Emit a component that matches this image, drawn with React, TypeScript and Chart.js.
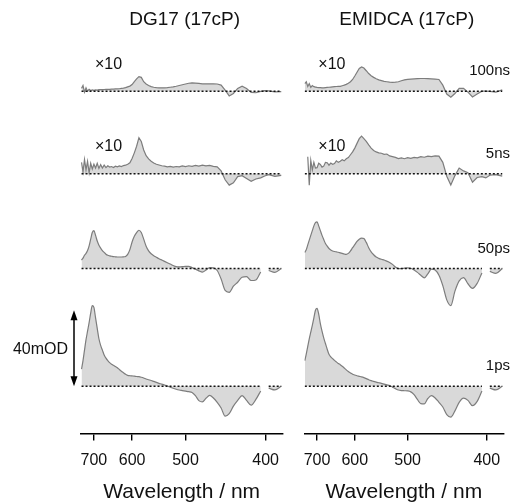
import React, { useEffect, useRef } from "react";
import { Chart, registerables } from "chart.js";

Chart.register(...registerables);

const FONT = "'Liberation Sans', Arial, sans-serif";

// Wavelength grid (nm); the x axis is linear in wavenumber (1e7 / nm)
const wavelengths = [
  740, 735, 730, 725, 720, 715, 710, 705, 700, 695,
  690, 685, 680, 675, 670, 665, 660, 655, 650, 645,
  640, 635, 630, 625, 620, 615, 610, 605, 600, 595,
  590, 585, 580, 575, 570, 565, 560, 555, 550, 545,
  540, 535, 530, 525, 520, 515, 510, 505, 500, 495,
  490, 485, 480, 475, 470, 465, 460, 455, 450, 445,
  440, 435, 430, 425, 420, 415, 410, 405, 401, 397,
  391, 385,
];
const tickWavelengths = [700, 600, 500, 400];

const panelTitles = ["DG17 (17cP)", "EMIDCA (17cP)"];
const delayLabels = ["1ps", "50ps", "5ns", "100ns"];
// vertical offsets of each trace (mOD)
const offsets = [0, 62, 112, 155.5];
// display magnification (traces marked ×10 are stored as displayed)
const magnification = [1, 1, 10, 10];
const scaleBarMOD = 40;

// DG17 (mOD)
const dg17_1ps = [
  9, 13.5, 19, 24.5, 29, 33.5, 38.5, 42.5, 41.5, 36,
  30.5, 25, 21.5, 19, 16.5, 14.8, 13.5, 12.4, 11.6, 11,
  10.4, 9.7, 8.8, 7.9, 7.1, 6.3, 5.7, 5.5, 5.4, 5.3,
  5.1, 5.0, 4.7, 4.3, 3.8, 3.4, 3.0, 2.5, 2.0, 1.5,
  1.1, 0.6, 0.1, -0.5, -1.1, -1.6, -2.0, -2.3, -2.6, -2.9,
  -3.3, -5, -7.6, -8.3, -6.4, -4.9, -6.2, -8.5, -11.5, -15.8,
  -14.5, -10.5, -7.5, -5, -7.5, -10, -7, -2.5, null, -1,
  -2, 0,
];
const dg17_50ps = [
  4.5, 5.5, 7, 8, 9.5, 12, 15.5, 19, 20, 17.5,
  14.5, 12.3, 10.8, 9.5, 8.5, 7.6, 7, 6.7, 6.5, 6.3,
  6.2, 6.1, 6.1, 6.1, 6.2, 6.4, 7.5, 10, 14, 17,
  19, 20.2, 19, 15.5, 11.8, 9.3, 7.8, 6.8, 6, 5.2,
  4.5, 3.8, 3.1, 2.4, 1.6, 1.0, 0.9, 1.0, 1.2, 1.2,
  0.5, -0.3, -1.2, -1.9, -0.8, 0.5, 0.4, -1, -5.5, -11.5,
  -12.5, -9.3, -7.2, -4.6, -4.2, -6.3, -6.0, -1.8, null, -1,
  -2, 0,
];
const dg17_5ns_x10 = [
  6, 1, 7.5, 2, 6.5, 0.5, 5.5, 2.5, 5, 3,
  5.5, 2.8, 4.8, 3, 4.5, 3.2, 4.2, 3.5, 3.8, 3.3,
  4, 3.6, 4.1, 3.8, 4.3, 4.5, 5, 5.8, 8, 11,
  14.5, 19, 17, 12.5, 9.5, 7.8, 6.6, 5.7, 5.0, 4.6,
  4.2, 4.0, 3.6, 3.9, 3.5, 3.8, 3.6, 4.1, 3.8, 4.2,
  3.9, 4.4, 4.0, 4.5, 4.1, 4.4, 3.9, 3.6, 1.5, -3.2,
  -6, -4.8, -1.5, -1.0, -2.5, -4.0, -2.8, -2.2, -1.2, -0.5,
  -1.4, -0.9,
];
const dg17_100ns_x10 = [
  1.5, 3, -0.5, 1.8, 0, 1, 0.4, 0.7, 0.5, 0.7,
  0.6, 0.8, 0.8, 0.9, 0.9, 1.0, 1.0, 1.0, 1.1, 1.1,
  1.2, 1.2, 1.3, 1.5, 1.6, 1.9, 2.3, 2.7, 3.5, 5.1,
  6.5, 7.7, 7.3, 5, 3.8, 3, 2.4, 2.1, 1.9, 1.8,
  1.8, 1.8, 1.9, 2.1, 2.3, 2.6, 3.0, 3.4, 3.8, 4.2,
  4.4, 4.3, 4.1, 3.9, 3.9, 3.9, 3.9, 3.8, 3.2, 0.6,
  -2.5, -1.2, 1.5, 2.6, 1.4, -0.6, -0.8, -0.1, 0.3, 0.2,
  -0.3, -0.2,
];

// EMIDCA (mOD)
const emidca_1ps = [
  13.5, 17, 21, 25, 28.5, 32, 36, 40, 41, 38,
  33, 29, 25.5, 22.5, 19.5, 16.8, 15.5, 14.5, 13.6, 12.8,
  12, 11.3, 10.5, 9.6, 8.6, 7.7, 7, 6.3, 5.9, 5.5,
  5.2, 4.9, 4.5, 4.0, 3.4, 2.9, 2.5, 2.1, 1.8, 1.5,
  1.1, 0.7, 0.3, -0.5, -1.3, -2, -2.3, -2.4, -2.5, -3,
  -4.5, -7, -9.2, -9.3, -6.5, -5, -6.2, -8.5, -11, -15,
  -16.3, -13, -8.5, -6.3, -7.5, -10.3, -8, -2.6, null, -1,
  -2, 0,
];
const emidca_50ps = [
  8.5, 10, 12.5, 15, 17.5, 20, 22.5, 24.2, 24.6, 22.5,
  20, 17.5, 15.3, 13.2, 11.8, 10.6, 9.8, 9.3, 9, 8.8,
  8.6, 8.3, 8, 7.7, 7.5, 8.0, 9.3, 11, 12.6, 14.3,
  15.5, 16.1, 15.8, 13.8, 11, 8.8, 7.3, 6.1, 5.4, 4.9,
  4.5, 3.9, 3.2, 2.2, 0.8, 0, 0, 0.2, 0.4, 0.2,
  -0.8, -2, -3.5, -4.9, -2.8, -0.3, -0.8, -3.5, -9, -16.5,
  -19.5, -11.9, -6.5, -4.8, -8, -10.4, -7.8, -2.3, null, -1.5,
  -2.5, 0,
];
const emidca_5ns_x10 = [
  null, null, 9, -6, 7, 2, 6, 3, 3.2, 5.5,
  4.9, 3.5, 4.0, 6, 5.8, 4.5, 5.6, 5, 5.4, 6.8,
  6.0, 6.6, 7.4, 6.8, 7.9, 8.5, 10, 11.5, 13.5, 16,
  18.5, 19.8, 18.5, 17, 15.2, 13.5, 12.3, 11.5, 11, 10.8,
  10.2, 10.4, 9.4, 9.0, 8.6, 8.0, 8.3, 7.9, 8.5, 8.1,
  8.6, 8.4, 9.0, 8.7, 9.3, 9.0, 9.4, 9.3, 6, -1.3,
  -6, -1, 3, 1.5, 0.5, -4.5, -2, -1.5, -2.2, -0.8,
  -0.5, -1.3,
];
const emidca_100ns_x10 = [
  4, 5, 2.5, 4, 2, 3, 2.4, 2.2, 2.0, 1.9,
  1.9, 1.8, 1.8, 1.9, 2.0, 2.1, 2.2, 2.3, 2.4, 2.5,
  2.6, 2.6, 2.9, 3.2, 3.6, 4.2, 5.0, 6.2, 8, 10,
  12, 12.8, 12.2, 10.8, 9.3, 8.2, 7.3, 6.6, 6.0, 5.6,
  5.2, 5.0, 4.8, 4.7, 4.8, 5.0, 5.5, 6.0, 6.2, 6.4,
  6.5, 6.6, 6.7, 6.7, 6.6, 6.5, 6.4, 6.2, 3.2, -1.5,
  -3.2, -1.2, 1.5, 1.5, -0.5, -3, -1.5, 0, 0, -0.1,
  -0.5, 0.7,
];

const dg17Series = [dg17_1ps, dg17_50ps, dg17_5ns_x10, dg17_100ns_x10];
const emidcaSeries = [emidca_1ps, emidca_50ps, emidca_5ns_x10, emidca_100ns_x10];

const xMinWn = 13480;
const xMaxWn = 26040;
const yMin = -25;
const yMax = 182.5;
const HEIGHT = 503;

type PanelProps = {
  title: string;
  series: (number | null)[][];
  left: number;
  width: number;
  padLeft: number;
  padRight: number;
  showScaleBar: boolean;
  showDelays: boolean;
};

function Panel({ title, series, left, width, padLeft, padRight, showScaleBar, showDelays }: PanelProps) {
  const ref = useRef<HTMLCanvasElement>(null);

  useEffect(() => {
    if (!ref.current) return;
    const datasets: any[] = [];
    series.forEach((vals, i) => {
      const off = offsets[i];
      const smooth = magnification[i] === 1;
      datasets.push({
        data: wavelengths.map((w, j) => ({ x: 1e7 / w, y: vals[j] == null ? null : (vals[j] as number) + off })),
        borderColor: "#7d7d7d",
        borderWidth: 1.2,
        backgroundColor: "#d9d9d9",
        fill: { value: off },
        pointRadius: 0,
        tension: smooth ? 0.4 : 0,
        cubicInterpolationMode: smooth ? "monotone" : "default",
        spanGaps: false,
        order: 2,
      });
      datasets.push({
        data: wavelengths.map((w, j) => ({ x: 1e7 / w, y: smooth && vals[j] == null ? null : off })),
        borderColor: "#111",
        borderWidth: 1.5,
        borderDash: [2, 2],
        pointRadius: 0,
        fill: false,
        spanGaps: false,
        order: 1,
      });
    });

    const annot = {
      id: "annot",
      afterDatasetsDraw(chart: any) {
        const { ctx, chartArea: ca, scales } = chart;
        const y = scales.y;
        ctx.save();
        ctx.fillStyle = "#111";
        ctx.textBaseline = "middle";
        ctx.font = `19px ${FONT}`;
        ctx.textAlign = "center";
        ctx.fillText(title, (ca.left + ca.right) / 2 + 3, 20);
        offsets.forEach((off, i) => {
          const yb = y.getPixelForValue(off);
          if (showDelays) {
            ctx.font = `15px ${FONT}`;
            ctx.textAlign = "right";
            ctx.fillText(delayLabels[i], chart.width - 1, yb - 20);
          }
          if (magnification[i] !== 1) {
            ctx.font = `16px ${FONT}`;
            ctx.textAlign = "left";
            ctx.fillText("\u00d7" + magnification[i], ca.left + 14, yb - 27);
          }
        });
        if (showScaleBar) {
          const x = 74;
          const y0 = y.getPixelForValue(0);
          const y1 = y.getPixelForValue(scaleBarMOD);
          const head = 10;
          const hw = 3.5;
          ctx.strokeStyle = "#000";
          ctx.fillStyle = "#000";
          ctx.lineWidth = 1.5;
          ctx.beginPath();
          ctx.moveTo(x, y1 + head - 1);
          ctx.lineTo(x, y0 - head + 1);
          ctx.stroke();
          ctx.beginPath();
          ctx.moveTo(x, y1);
          ctx.lineTo(x - hw, y1 + head);
          ctx.lineTo(x + hw, y1 + head);
          ctx.closePath();
          ctx.fill();
          ctx.beginPath();
          ctx.moveTo(x, y0);
          ctx.lineTo(x - hw, y0 - head);
          ctx.lineTo(x + hw, y0 - head);
          ctx.closePath();
          ctx.fill();
          ctx.fillStyle = "#111";
          ctx.font = `16px ${FONT}`;
          ctx.textAlign = "right";
          ctx.fillText(scaleBarMOD + "mOD", 68, (y0 + y1) / 2 + 1);
        }
        ctx.restore();
      },
    };

    const chart = new Chart(ref.current, {
      type: "line",
      data: { datasets },
      options: {
        animation: false,
        responsive: false,
        devicePixelRatio: 1,
        layout: { padding: { left: padLeft, right: padRight, top: 40, bottom: 0 } },
        plugins: { legend: { display: false }, tooltip: { enabled: false }, title: { display: false } },
        scales: {
          x: {
            type: "linear",
            min: xMinWn,
            max: xMaxWn,
            afterBuildTicks: (scale: any) => {
              scale.ticks = tickWavelengths.map((w) => ({ value: 1e7 / w }));
            },
            ticks: {
              callback: (v: any) => String(Math.round(1e7 / Number(v))),
              font: { family: FONT, size: 16 },
              color: "#111",
              padding: 10.4,
              autoSkip: false,
              maxRotation: 0,
            },
            grid: { display: true, drawOnChartArea: false, drawTicks: true, tickLength: 7, color: "#000", lineWidth: 1.4 },
            border: { display: true, color: "#000", width: 1.5 },
            title: {
              display: true,
              text: "Wavelength / nm",
              font: { family: FONT, size: 21, lineHeight: 1 },
              color: "#111",
              padding: { top: 1.4, bottom: 0 },
            },
          },
          y: { display: false, min: yMin, max: yMax },
        },
      } as any,
      plugins: [annot],
    });
    return () => chart.destroy();
  }, []);

  return (
    <canvas
      ref={ref}
      width={width}
      height={HEIGHT}
      style={{ position: "absolute", left, top: 0, width, height: HEIGHT }}
    />
  );
}

export default function App() {
  return (
    <div style={{ position: "absolute", left: 0, top: 0, width: 511, height: HEIGHT, background: "#fff" }}>
      <Panel title={panelTitles[0]} series={dg17Series} left={0} width={290} padLeft={81} padRight={7.3} showScaleBar={true} showDelays={false} />
      <Panel title={panelTitles[1]} series={emidcaSeries} left={290} width={221} padLeft={14.3} padRight={5.3} showScaleBar={false} showDelays={true} />
    </div>
  );
}
